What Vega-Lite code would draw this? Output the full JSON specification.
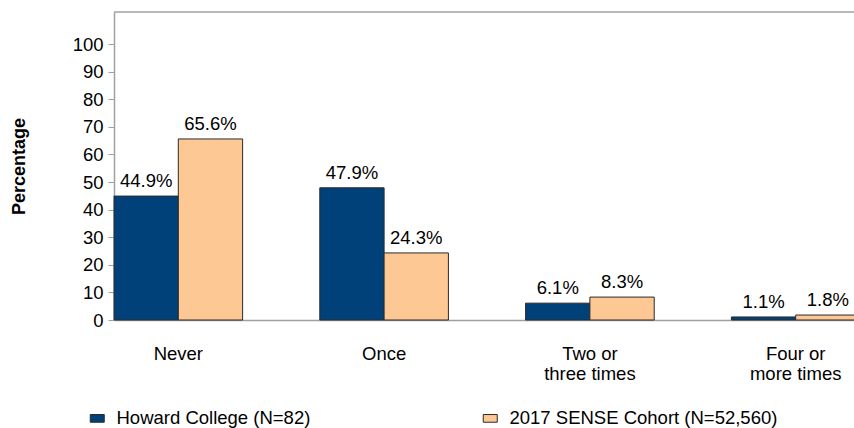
{
  "$schema": "https://vega.github.io/schema/vega-lite/v6.json",
  "width": 740,
  "height": 308,
  "autosize": {"type": "none"},
  "padding": {"left": 114, "top": 12, "right": 0, "bottom": 108},
  "background": "white",
  "config": {
    "font": "Liberation Sans",
    "view": {"stroke": null},
    "axis": {"labelColor": "#000000", "titleColor": "#000000"},
    "axisY": {
      "grid": false, "labelFontSize": 18.5, "tickSize": 6, "labelPadding": 5,
      "domainColor": "#a0a0a0", "tickColor": "#a0a0a0", "domainWidth": 1.5,
      "labelOverlap": false, "tickCount": 11
    }
  },
  "data": {
    "values": [
      {"category": "Never", "group": "Howard College (N=82)", "value": 44.9, "label": "44.9%"},
      {"category": "Never", "group": "2017 SENSE Cohort (N=52,560)", "value": 65.6, "label": "65.6%"},
      {"category": "Once", "group": "Howard College (N=82)", "value": 47.9, "label": "47.9%"},
      {"category": "Once", "group": "2017 SENSE Cohort (N=52,560)", "value": 24.3, "label": "24.3%"},
      {"category": "Two or|three times", "group": "Howard College (N=82)", "value": 6.1, "label": "6.1%"},
      {"category": "Two or|three times", "group": "2017 SENSE Cohort (N=52,560)", "value": 8.3, "label": "8.3%"},
      {"category": "Four or|more times", "group": "Howard College (N=82)", "value": 1.1, "label": "1.1%"},
      {"category": "Four or|more times", "group": "2017 SENSE Cohort (N=52,560)", "value": 1.8, "label": "1.8%"}
    ]
  },
  "layer": [
    {
      "mark": {"type": "bar", "stroke": "#2a2a2a", "strokeWidth": 1},
      "encoding": {
        "x": {
          "field": "category", "type": "nominal",
          "sort": ["Never", "Once", "Two or|three times", "Four or|more times"],
          "scale": {"range": [0, 746], "paddingInner": 0.375, "paddingOuter": 0},
          "axis": {
            "title": null, "labelAngle": 0, "labelFontSize": 18.5, "labelPadding": 24,
            "ticks": false, "tickSize": 0, "domainColor": "#a0a0a0", "domainWidth": 1.5,
            "labelExpr": "split(datum.label, '|')", "labelLineHeight": 20
          }
        },
        "xOffset": {"field": "group", "sort": ["Howard College (N=82)", "2017 SENSE Cohort (N=52,560)"], "scale": {"paddingInner": 0, "paddingOuter": 0}},
        "y": {
          "field": "value", "type": "quantitative",
          "scale": {"domain": [0, 111.6], "nice": false},
          "axis": {
            "values": [0, 10, 20, 30, 40, 50, 60, 70, 80, 90, 100],
            "title": "Percentage", "titleFontSize": 18, "titleFontWeight": "bold",
            "titleX": -95, "titleY": 154, "titleAngle": 270, "titleAlign": "center", "titleBaseline": "middle"
          }
        },
        "color": {
          "field": "group", "type": "nominal",
          "scale": {"domain": ["Howard College (N=82)", "2017 SENSE Cohort (N=52,560)"], "range": ["#00417a", "#fdc893"]},
          "legend": {
            "title": null, "orient": "none", "direction": "horizontal",
            "legendX": -26, "legendY": 397, "padding": 0,
            "symbolType": "M-1,-0.55H1V0.55H-1Z", "symbolSize": 196,
            "symbolStrokeColor": "#2a2a2a", "symbolStrokeWidth": 1, "symbolOpacity": 1,
            "labelFontSize": 18.5, "labelColor": "#000000", "labelOffset": 10,
            "columnPadding": 170, "labelLimit": 400
          }
        }
      }
    },
    {
      "mark": {"type": "text", "baseline": "alphabetic", "dy": -9, "fontSize": 18.5, "color": "#000000"},
      "encoding": {
        "x": {"field": "category", "type": "nominal", "sort": ["Never", "Once", "Two or|three times", "Four or|more times"],
          "axis": {
            "title": null, "labelAngle": 0, "labelFontSize": 18.5, "labelPadding": 24,
            "ticks": false, "tickSize": 0, "domainColor": "#a0a0a0", "domainWidth": 1.5,
            "labelExpr": "split(datum.label, '|')", "labelLineHeight": 20
          }},
        "xOffset": {"field": "group", "sort": ["Howard College (N=82)", "2017 SENSE Cohort (N=52,560)"]},
        "y": {"field": "value", "type": "quantitative",
          "axis": {
            "values": [0, 10, 20, 30, 40, 50, 60, 70, 80, 90, 100],
            "title": "Percentage", "titleFontSize": 18, "titleFontWeight": "bold",
            "titleX": -95, "titleY": 154, "titleAngle": 270, "titleAlign": "center", "titleBaseline": "middle"
          }},
        "text": {"field": "label"}
      }
    },
    {
      "data": {"values": [{}]},
      "mark": {"type": "rule", "color": "#a0a0a0", "strokeWidth": 1.5},
      "encoding": {"y": {"datum": 111.6,
          "axis": {
            "values": [0, 10, 20, 30, 40, 50, 60, 70, 80, 90, 100],
            "title": "Percentage", "titleFontSize": 18, "titleFontWeight": "bold",
            "titleX": -95, "titleY": 154, "titleAngle": 270, "titleAlign": "center", "titleBaseline": "middle"
          }}}
    }
  ]
}
